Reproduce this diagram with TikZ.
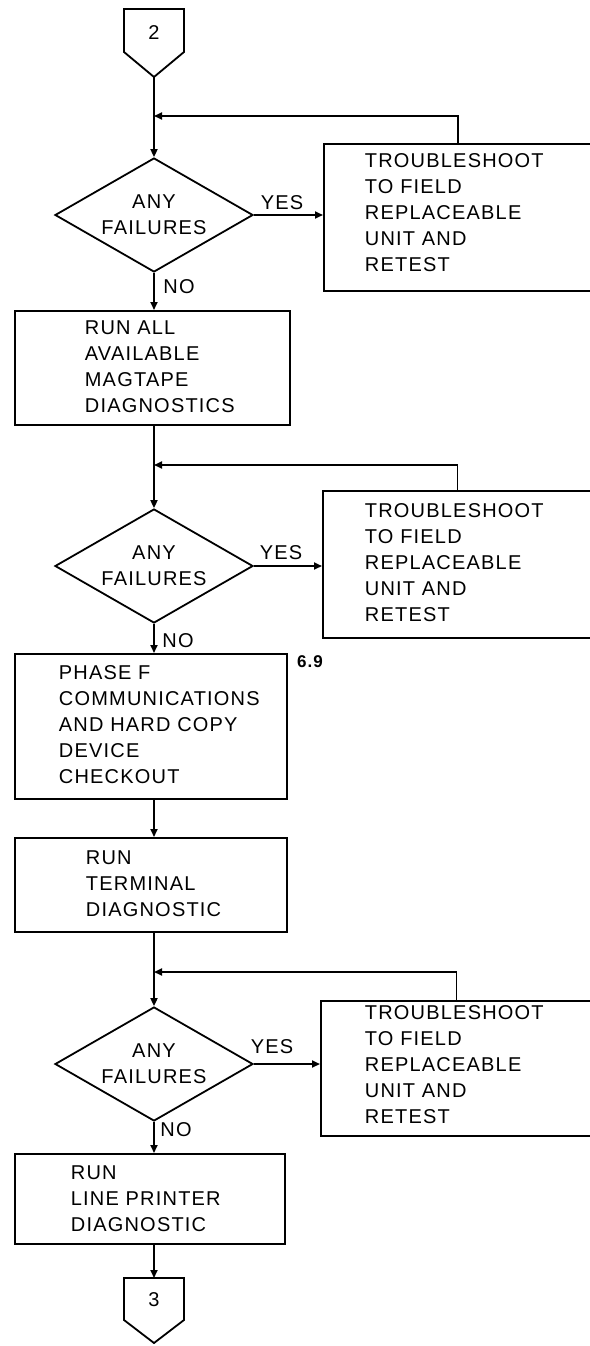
\documentclass[tikz,border=0pt]{standalone}
\usepackage{fontspec}
\setmainfont{Liberation Sans}[LetterSpace=6]
\usetikzlibrary{shapes.geometric,arrows.meta}
\begin{document}
\begin{tikzpicture}[x=1pt,y=-1pt,line width=1.8pt,
  box/.style={draw,rectangle,anchor=north west,inner sep=0pt},
  txt/.style={align=left,anchor=north west,inner sep=0pt,font=\fontsize{20}{26}\selectfont},
  dec/.style={draw,diamond,aspect=1.75,minimum width=198pt,minimum height=114pt,inner sep=0pt,align=center,font=\fontsize{20}{26}\selectfont},
  lbl/.style={inner sep=0pt,font=\fontsize{20}{26}\selectfont},
  arr/.style={-{Triangle[length=8pt,width=7pt]}}]
\useasboundingbox (0,0) rectangle (589,1346);
% connector 2
\draw (124,9) -- (184,9) -- (184,52) -- (154,77) -- (124,52) -- cycle;
\node[lbl] (c2) at (154,33) {2};
\coordinate (c2tip) at (154,77);
% block 1
\coordinate (j1) at (154,116);
\node[dec] (d1) at (154,215) {ANY\\FAILURES};
\node[box,minimum width=268pt,minimum height=147pt] (t1) at (323,143) {};
\node[txt] (t1txt) at (364,153) {TROUBLESHOOT\\TO FIELD\\REPLACEABLE\\UNIT AND\\RETEST};
\node[lbl] (yes1) at (282,203) {YES};
\node[lbl] (no1) at (179,287) {NO};
\node[box,minimum width=275pt,minimum height=114pt] (b1) at (14,310) {};
\node[txt] (b1txt) at (84,320) {RUN ALL\\AVAILABLE\\MAGTAPE\\DIAGNOSTICS};
% block 2
\coordinate (j2) at (154,465);
\node[dec] (d2) at (154,566) {ANY\\FAILURES};
\node[box,minimum width=269pt,minimum height=147pt] (t2) at (322,490) {};
\node[txt] (t2txt) at (364,503) {TROUBLESHOOT\\TO FIELD\\REPLACEABLE\\UNIT AND\\RETEST};
\node[lbl] (yes2) at (281,553) {YES};
\node[lbl] (no2) at (178,641) {NO};
\node[box,minimum width=272pt,minimum height=145pt] (b2) at (14,653) {};
\node[txt] (b2txt) at (58,665) {PHASE F\\COMMUNICATIONS\\AND HARD COPY\\DEVICE\\CHECKOUT};
\node[inner sep=0pt,font=\fontsize{17}{20}\selectfont\bfseries] (sec) at (310,662) {6.9};
\node[box,minimum width=272pt,minimum height=94pt] (b3) at (14,837) {};
\node[txt] (b3txt) at (85,850) {RUN\\TERMINAL\\DIAGNOSTIC};
% block 3
\coordinate (j3) at (154,972);
\node[dec] (d3) at (154,1064) {ANY\\FAILURES};
\node[box,minimum width=271pt,minimum height=135pt] (t3) at (320,1000) {};
\node[txt] (t3txt) at (364,1005) {TROUBLESHOOT\\TO FIELD\\REPLACEABLE\\UNIT AND\\RETEST};
\node[lbl] (yes3) at (272,1047) {YES};
\node[lbl] (no3) at (176,1130) {NO};
\node[box,minimum width=270pt,minimum height=90pt] (b4) at (14,1153) {};
\node[txt] (b4txt) at (70,1165) {RUN\\LINE PRINTER\\DIAGNOSTIC};
% connector 3
\coordinate (c3top) at (154,1278);
\draw (124,1278) -- (184,1278) -- (184,1320) -- (154,1343) -- (124,1320) -- cycle;
\node[lbl] (c3) at (154,1300) {3};
% connectors
\draw[arr] (c2tip) -- (d1.north);
\draw[arr] (t1.north) |- (j1);
\draw[arr] (d1.east) -- (t1.west |- d1.east);
\draw[arr] (d1.south) -- (d1.south |- b1.north);
\draw[arr] (d2.north |- b1.south) -- (d2.north);
\draw[arr] (t2.north) |- (j2);
\draw[arr] (d2.east) -- (t2.west |- d2.east);
\draw[arr] (d2.south) -- (d2.south |- b2.north);
\draw[arr] (d2.south |- b2.south) -- (d2.south |- b3.north);
\draw[arr] (d3.north |- b3.south) -- (d3.north);
\draw[arr] (t3.north) |- (j3);
\draw[arr] (d3.east) -- (t3.west |- d3.east);
\draw[arr] (d3.south) -- (d3.south |- b4.north);
\draw[arr] (d3.south |- b4.south) -- (c3top);
\end{tikzpicture}
\end{document}
